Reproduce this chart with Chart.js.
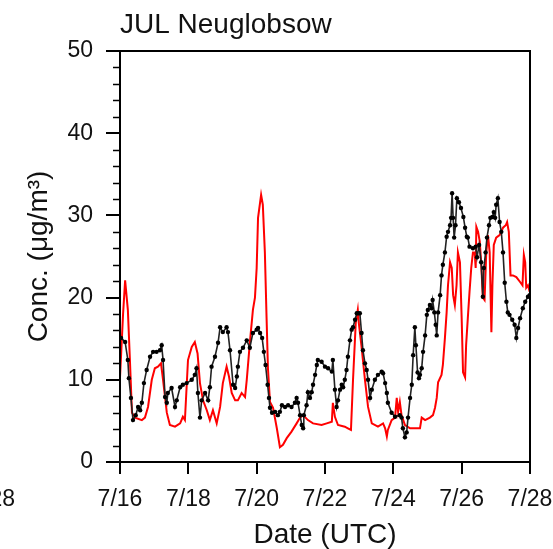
<!DOCTYPE html>
<html>
<head>
<meta charset="utf-8">
<script src="https://cdn.jsdelivr.net/npm/chart.js@4.4.1/dist/chart.umd.min.js"></script>
<style>
  html, body { margin: 0; padding: 0; background: #fff; }
  canvas { display: block; }
</style>
</head>
<body>
<canvas id="chart" width="553" height="549"></canvas>
<script>
// time axis: days since 7/16 00 UTC
const tickDays = [0, 2, 4, 6, 8, 10, 12];
const tickLabels = ['7/16', '7/18', '7/20', '7/22', '7/24', '7/26', '7/28'];

// observations (black, with markers)
const obsT = [0.03, 0.15, 0.23, 0.26, 0.32, 0.38, 0.46, 0.53, 0.59, 0.64, 0.70, 0.78, 0.88, 0.97, 1.07, 1.17, 1.22, 1.26, 1.32, 1.37,
  1.40, 1.51, 1.61, 1.66, 1.76, 1.84, 1.95, 2.10, 2.19, 2.24, 2.28, 2.34, 2.39, 2.49, 2.58, 2.63, 2.68, 2.78, 2.87, 2.93,
  3.01, 3.12, 3.16, 3.22, 3.31, 3.37, 3.42, 3.45, 3.51, 3.60, 3.71, 3.80, 3.89, 4.00, 4.04, 4.10, 4.16, 4.21, 4.26, 4.32,
  4.36, 4.39, 4.45, 4.54, 4.62, 4.68, 4.74, 4.83, 4.92, 5.02, 5.12, 5.17, 5.21, 5.27, 5.32, 5.36, 5.38, 5.46, 5.50, 5.56,
  5.61, 5.65, 5.71, 5.76, 5.79, 5.90, 6.00, 6.09, 6.20, 6.23, 6.29, 6.34, 6.38, 6.44, 6.49, 6.53, 6.58, 6.63, 6.67, 6.73,
  6.78, 6.82, 6.88, 6.93, 6.97, 7.02, 7.07, 7.11, 7.17, 7.22, 7.26, 7.32, 7.37, 7.46, 7.55, 7.66, 7.70, 7.76, 7.81, 7.84,
  7.95, 8.05, 8.19, 8.24, 8.28, 8.34, 8.39, 8.43, 8.49, 8.54, 8.58, 8.63, 8.66, 8.71, 8.75, 8.78, 8.83, 8.87, 8.93, 8.98,
  9.01, 9.07, 9.12, 9.15, 9.20, 9.24, 9.27, 9.31, 9.37, 9.41, 9.45, 9.51, 9.56, 9.60, 9.66, 9.69, 9.72, 9.75, 9.78, 9.82,
  9.86, 9.92, 9.98, 10.05, 10.10, 10.15, 10.18, 10.23, 10.33, 10.41, 10.45, 10.51, 10.57, 10.62, 10.65, 10.70, 10.74, 10.80, 10.84, 10.90,
  10.94, 10.98, 11.01, 11.06, 11.11, 11.16, 11.21, 11.26, 11.31, 11.35, 11.40, 11.48, 11.55, 11.60, 11.65, 11.71, 11.79, 11.86, 11.94, 11.99];
const obsConc = [15.1, 14.6, 12.4, 10.2, 7.8, 5.1, 5.7, 6.7, 6.3, 7.2, 9.6, 11.2, 12.8, 13.4, 13.4, 13.6, 14.2, 12.4, 7.9, 7.2,
  8.4, 9.0, 6.7, 7.5, 9.1, 9.4, 9.6, 10.0, 10.6, 11.4, 8.4, 5.4, 7.5, 8.4, 7.5, 9.1, 11.6, 12.8, 14.5, 16.4,
  15.8, 16.4, 15.8, 13.6, 9.4, 9.0, 10.4, 11.6, 13.4, 13.9, 14.8, 13.9, 15.7, 16.1, 16.3, 15.7, 15.1, 13.4, 11.8, 9.4,
  7.8, 6.6, 6.0, 6.1, 5.7, 6.1, 6.9, 6.7, 6.9, 6.7, 7.2, 7.8, 7.2, 5.7, 4.5, 4.1, 5.7, 6.9, 8.5, 7.8,
  8.5, 9.4, 10.6, 11.8, 12.4, 12.2, 11.6, 11.4, 11.0, 12.4, 8.8, 6.7, 7.5, 8.8, 9.4, 9.1, 10.0, 11.2, 12.8, 14.8,
  16.1, 16.4, 17.3, 18.1, 18.1, 18.1, 15.7, 13.6, 12.0, 11.2, 10.0, 7.8, 8.8, 10.0, 10.6, 11.0, 10.8, 9.6, 8.4, 7.2,
  6.0, 5.5, 5.7, 5.4, 4.1, 3.0, 3.6, 5.4, 7.8, 9.4, 13.0, 16.4, 14.2, 10.9, 10.2, 10.6, 11.4, 13.4, 15.4, 17.9,
  18.5, 19.1, 18.7, 19.7, 18.2, 16.7, 15.4, 18.2, 20.3, 22.7, 24.0, 25.5, 27.4, 28.0, 28.8, 29.7, 32.7, 29.7, 27.3, 28.8,
  32.1, 31.6, 30.9, 29.8, 28.5, 27.4, 27.3, 26.2, 26.0, 26.2, 24.9, 26.4, 24.3, 20.1, 23.6, 25.5, 27.3, 28.8, 29.7, 29.8,
  30.4, 29.7, 31.3, 32.1, 29.2, 28.0, 25.5, 21.8, 19.5, 18.2, 17.9, 17.3, 16.7, 15.1, 16.3, 17.5, 18.7, 19.5, 20.1, 20.3];

// model (red line)
const modT = [0.00, 0.09, 0.15, 0.23, 0.29, 0.35, 0.44, 0.64, 0.73, 0.82, 0.93, 1.02, 1.11, 1.20, 1.26, 1.37, 1.46, 1.61, 1.76, 1.84,
  1.90, 1.99, 2.10, 2.19, 2.27, 2.34, 2.43, 2.54, 2.63, 2.72, 2.83, 2.93, 3.01, 3.12, 3.19, 3.27, 3.37, 3.45, 3.56, 3.66,
  3.71, 3.80, 3.89, 3.95, 4.00, 4.04, 4.13, 4.18, 4.24, 4.29, 4.33, 4.39, 4.48, 4.59, 4.68, 4.77, 4.88, 5.02, 5.17, 5.27,
  5.36, 5.50, 5.65, 5.90, 6.05, 6.20, 6.23, 6.29, 6.38, 6.58, 6.67, 6.76, 6.82, 6.90, 6.96, 6.99, 7.07, 7.17, 7.26, 7.37,
  7.55, 7.70, 7.76, 7.81, 7.84, 7.95, 8.05, 8.10, 8.14, 8.19, 8.24, 8.34, 8.49, 8.78, 8.83, 8.93, 9.07, 9.16, 9.22, 9.27,
  9.31, 9.41, 9.45, 9.51, 9.56, 9.60, 9.66, 9.71, 9.75, 9.80, 9.85, 9.89, 9.95, 10.00, 10.04, 10.10, 10.13, 10.18, 10.23, 10.28,
  10.33, 10.38, 10.41, 10.43, 10.48, 10.53, 10.57, 10.62, 10.67, 10.72, 10.77, 10.82, 10.87, 10.90, 10.94, 11.01, 11.11, 11.21, 11.29, 11.33,
  11.38, 11.43, 11.50, 11.60, 11.71, 11.78, 11.82, 11.86, 11.89, 11.94, 11.99];
const modConc = [10.3, 18.0, 22.1, 18.5, 12.4, 6.0, 5.4, 5.1, 5.4, 6.7, 10.0, 11.4, 11.6, 12.0, 10.0, 6.0, 4.5, 4.3, 4.7, 5.5,
  5.1, 12.4, 14.0, 14.6, 13.2, 9.6, 7.5, 6.3, 5.1, 6.3, 4.7, 6.7, 9.6, 11.6, 10.4, 8.4, 7.5, 7.5, 8.4, 7.9,
  10.0, 14.5, 18.5, 20.0, 23.6, 29.7, 32.5, 31.3, 25.5, 17.5, 11.4, 7.3, 6.6, 4.1, 1.8, 2.1, 2.9, 3.7, 4.7, 5.4,
  5.7, 5.1, 4.7, 4.5, 4.7, 4.9, 7.2, 5.5, 4.5, 4.3, 4.1, 3.9, 10.0, 16.9, 18.5, 16.9, 14.0, 10.0, 6.7, 4.7,
  4.3, 4.7, 4.1, 3.1, 3.9, 5.1, 5.4, 7.8, 6.1, 7.3, 5.7, 4.5, 4.1, 4.1, 5.4, 5.1, 5.4, 5.7, 6.6, 7.8,
  9.7, 10.6, 11.8, 15.1, 18.2, 21.5, 24.3, 23.6, 20.3, 19.1, 21.5, 25.5, 24.3, 17.5, 10.9, 10.3, 14.2, 17.5, 20.7, 23.6,
  25.5, 25.5, 23.6, 28.6, 28.0, 26.8, 24.3, 20.0, 19.7, 25.5, 27.6, 25.5, 15.8, 21.5, 26.4, 27.3, 27.6, 28.5, 28.8, 29.2,
  28.0, 22.7, 22.7, 22.5, 21.9, 21.5, 25.2, 24.3, 21.2, 21.5, 20.7];

const minorY = [2, 4, 6, 8, 12, 14, 16, 18, 22, 24, 26, 28, 32, 34, 36, 38, 42, 44, 46, 48];

const FONT = '"Liberation Sans", Arial, Helvetica, sans-serif';

// box around the plot, minor ticks on the y axis, clipped label of the panel to the left
const extras = {
  id: 'extras',
  afterDraw(chart) {
    const { ctx, chartArea: a, scales: { y } } = chart;
    ctx.save();
    ctx.strokeStyle = '#000';
    ctx.lineWidth = 2;
    ctx.strokeRect(a.left, a.top, a.right - a.left, a.bottom - a.top);
    ctx.lineWidth = 1.5;
    ctx.beginPath();
    minorY.forEach(v => {
      const py = Math.round(y.getPixelForValue(v)) + 0.5;
      ctx.moveTo(a.left - 7, py);
      ctx.lineTo(a.left, py);
    });
    ctx.stroke();
    ctx.fillStyle = '#111';
    ctx.font = '23px ' + FONT;
    ctx.textAlign = 'right';
    ctx.textBaseline = 'middle';
    ctx.fillText('7/28', 15, 500);
    ctx.restore();
  }
};

new Chart(document.getElementById('chart'), {
  type: 'line',
  data: {
    datasets: [
      {
        label: 'obs',
        data: obsT.map((t, i) => ({ x: t, y: obsConc[i] })),
        borderColor: '#222',
        backgroundColor: '#000',
        borderWidth: 1.6,
        pointRadius: 2.2,
        pointBorderWidth: 0,
        pointBackgroundColor: '#000',
        tension: 0
      },
      {
        label: 'model',
        data: modT.map((t, i) => ({ x: t, y: modConc[i] })),
        borderColor: '#ff0000',
        borderWidth: 2,
        pointRadius: 0,
        tension: 0
      }
    ]
  },
  options: {
    responsive: false,
    animation: false,
    layout: { padding: { top: 0, right: 23, bottom: 0, left: 0 } },
    plugins: {
      legend: { display: false },
      tooltip: { enabled: false },
      title: {
        display: true,
        text: 'JUL Neuglobsow',
        align: 'start',
        fullSize: false,
        color: '#111',
        font: { family: FONT, size: 28, weight: 'normal', lineHeight: 1.2 },
        padding: { top: 8, bottom: 9.4 }
      }
    },
    scales: {
      x: {
        type: 'linear',
        min: 0,
        max: 12,
        afterBuildTicks: s => { s.ticks = tickDays.map(v => ({ value: v })); },
        afterFit: s => { s.height = 87; s.paddingLeft = 0; s.paddingRight = 0; },
        ticks: {
          callback: (v) => tickLabels[tickDays.indexOf(v)],
          color: '#111',
          font: { family: FONT, size: 23 },
          padding: 12,
          maxRotation: 0
        },
        grid: { drawOnChartArea: false, drawTicks: true, tickLength: 12, color: '#000', lineWidth: 2 },
        border: { display: true, color: '#000', width: 2 },
        title: {
          display: true,
          text: 'Date (UTC)',
          color: '#111',
          font: { family: FONT, size: 28, lineHeight: 1 },
          padding: { top: 0, bottom: 0 }
        }
      },
      y: {
        min: 0,
        max: 50,
        afterFit: s => { s.width = 120; },
        ticks: {
          stepSize: 10,
          color: '#111',
          font: { family: FONT, size: 23 },
          padding: 13
        },
        grid: { drawOnChartArea: false, drawTicks: true, tickLength: 14, color: '#000', lineWidth: 2 },
        border: { display: true, color: '#000', width: 2 },
        title: {
          display: true,
          text: 'Conc. (μg/m³)',
          color: '#111',
          font: { family: FONT, size: 28, lineHeight: 1 },
          padding: { top: 25, bottom: 0 }
        }
      }
    }
  },
  plugins: [extras]
});
</script>
</body>
</html>
